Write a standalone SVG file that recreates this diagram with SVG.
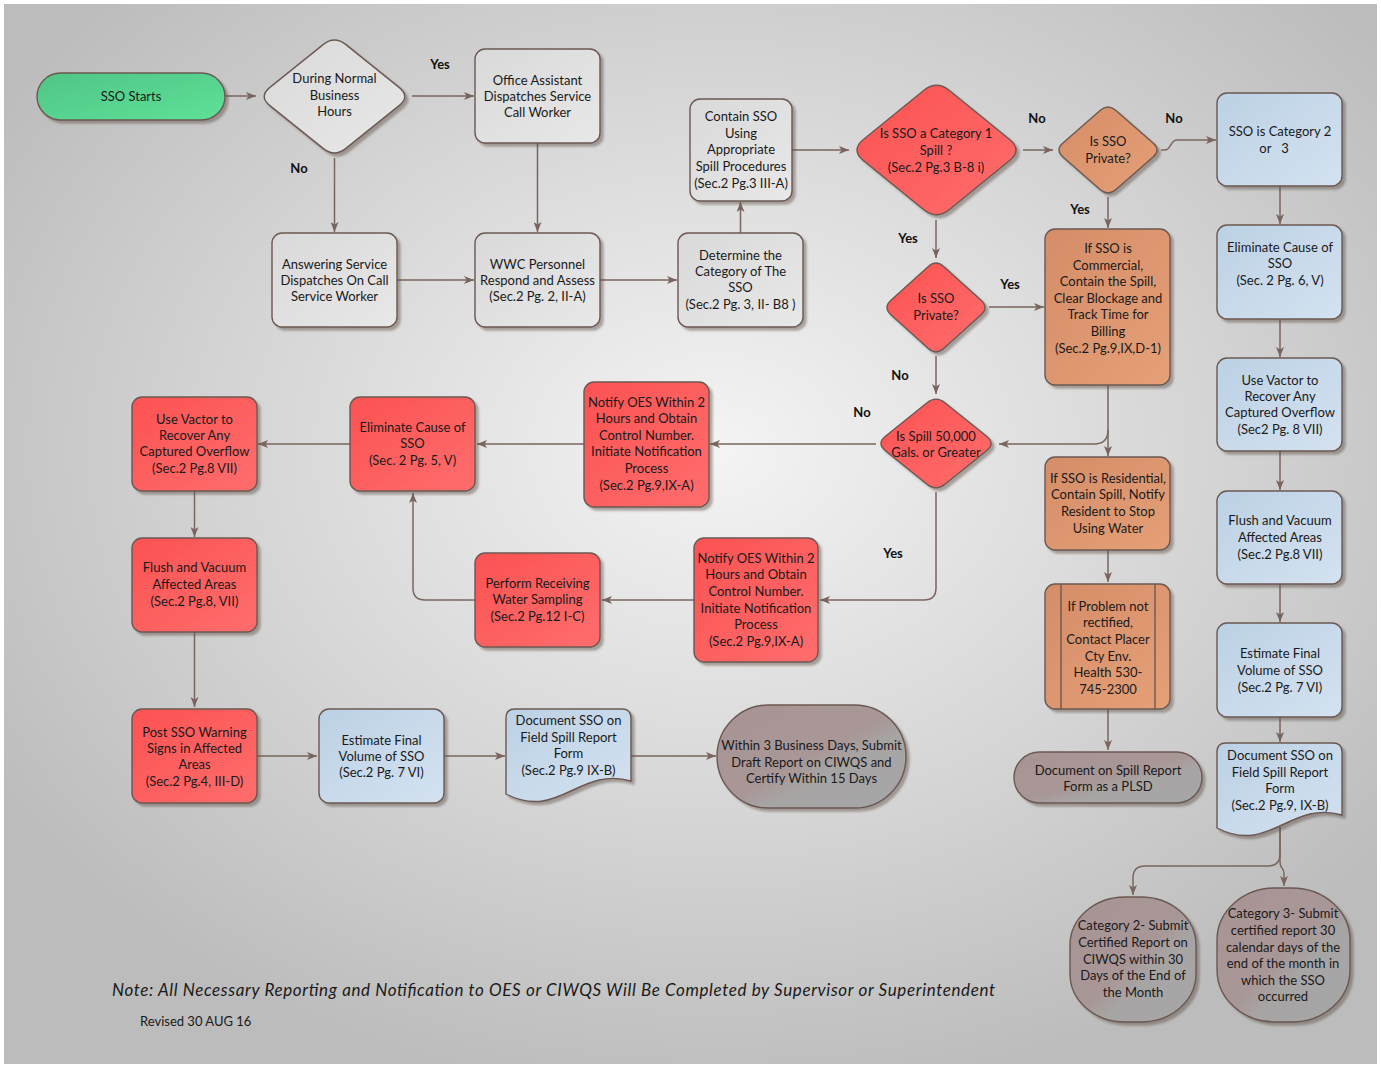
<svg xmlns="http://www.w3.org/2000/svg" width="1381" height="1067" viewBox="0 0 1381 1067">
<defs>
<radialGradient id="bg" cx="0.52" cy="0.42" r="0.62">
<stop offset="0" stop-color="#f4f4f4"/>
<stop offset="0.55" stop-color="#d6d6d6"/>
<stop offset="1" stop-color="#bcbcbc"/>
</radialGradient>
<linearGradient id="gRed" x1="0" y1="0" x2="1" y2="1"><stop offset="0" stop-color="#fc5252"/><stop offset="1" stop-color="#ff6d6d"/></linearGradient>
<linearGradient id="gOr" x1="0" y1="0" x2="1" y2="1"><stop offset="0" stop-color="#d48d68"/><stop offset="1" stop-color="#e6a077"/></linearGradient>
<linearGradient id="gBl" x1="0" y1="0" x2="1" y2="1"><stop offset="0" stop-color="#bcd1e5"/><stop offset="1" stop-color="#d4e2f0"/></linearGradient>
<linearGradient id="gGr" x1="0" y1="0" x2="1" y2="1"><stop offset="0" stop-color="#d9d9d9"/><stop offset="1" stop-color="#e8e8e8"/></linearGradient>
<linearGradient id="gGn" x1="0" y1="0" x2="1" y2="1"><stop offset="0" stop-color="#50c585"/><stop offset="1" stop-color="#5ee198"/></linearGradient>
<linearGradient id="gMv" x1="0" y1="0" x2="1" y2="1"><stop offset="0" stop-color="#a89393"/><stop offset="0.5" stop-color="#a99797"/><stop offset="0.62" stop-color="#a7a4a4"/><stop offset="1" stop-color="#a6a6a6"/></linearGradient>
<filter id="sh" x="-10%" y="-10%" width="125%" height="125%">
<feDropShadow dx="3" dy="3" stdDeviation="1.3" flood-color="#5a4843" flood-opacity="0.45"/>
</filter>
<marker id="ah" viewBox="0 0 10 8" refX="10" refY="4" markerWidth="10" markerHeight="8" markerUnits="userSpaceOnUse" orient="auto">
<path d="M0,0 L10,4 L0,8 L2.5,4 Z" fill="#7a645e"/>
</marker>
<style>
.n{stroke:#6b5852;stroke-width:1.4;filter:url(#sh)}
.red{fill:url(#gRed)}.or{fill:url(#gOr)}.bl{fill:url(#gBl)}.gr{fill:url(#gGr)}.gn{fill:url(#gGn)}.mv{fill:url(#gMv)}
.t{font-family:Lato,"Liberation Sans",sans-serif;font-size:13px;fill:#1a1a1a;text-anchor:middle}
.lb{font-family:Lato,"Liberation Sans",sans-serif;font-size:13px;font-weight:bold;fill:#111;text-anchor:middle}
.c{fill:none;stroke:#7a655f;stroke-width:1.5;marker-end:url(#ah)}
.ln{fill:none;stroke:#6b5852;stroke-width:1.4}
</style>
</defs>
<rect x="4" y="4" width="1373" height="1060" fill="url(#bg)"/>

<g id="connectors">
<path class="c" d="M225,96 H256"/>
<path class="c" d="M412,96 H474"/>
<path class="c" d="M334.5,158 V232"/>
<path class="c" d="M537.5,143 V232"/>
<path class="c" d="M397,280 H474"/>
<path class="c" d="M600,280 H677"/>
<path class="c" d="M740.5,233 V202"/>
<path class="c" d="M792,150 H849"/>
<path class="c" d="M1023,150 H1053"/>
<path class="c" d="M1161,150 H1165 C1171,150 1170,140 1177,140 H1216"/>
<path class="c" d="M1108,197 V228"/>
<path class="c" d="M936,220 V258"/>
<path class="c" d="M989,307 H1044"/>
<path class="c" d="M936,356 V394"/>
<path class="c" d="M1108,385 V456"/>
<path class="c" d="M1108,430 Q1108,444 1094,444 H999"/>
<path class="c" d="M876,444 H710"/>
<path class="c" d="M584,444 H477"/>
<path class="c" d="M350,444 H258"/>
<path class="c" d="M194.5,491 V537"/>
<path class="c" d="M194.5,632 V707"/>
<path class="c" d="M936,492 V588 Q936,600 924,600 H820"/>
<path class="c" d="M694,600 H602"/>
<path class="c" d="M475,600 H425 Q413,600 413,588 V493"/>
<path class="c" d="M257,756 H317"/>
<path class="c" d="M444,756 H505"/>
<path class="c" d="M631,756 H716"/>
<path class="c" d="M1108,550 V582"/>
<path class="c" d="M1108,709 V750"/>
<path class="c" d="M1280,186 V224"/>
<path class="c" d="M1280,319 V357"/>
<path class="c" d="M1280,451 V490"/>
<path class="c" d="M1280,584 V622"/>
<path class="c" d="M1280,717 V742"/>
<path class="c" d="M1280,827 V854 Q1280,866 1268,866 H1145 Q1133,866 1133,878 V895"/>
<path class="c" d="M1280,827 V862 Q1280,866 1282,868 Q1284,870 1284,874 V886"/>
<text class="lb" x="440" y="69">Yes</text>
<text class="lb" x="299" y="173">No</text>
<text class="lb" x="1037" y="123">No</text>
<text class="lb" x="1174" y="123">No</text>
<text class="lb" x="1080" y="214">Yes</text>
<text class="lb" x="908" y="243">Yes</text>
<text class="lb" x="1010" y="289">Yes</text>
<text class="lb" x="900" y="380">No</text>
<text class="lb" x="862" y="417">No</text>
<text class="lb" x="893" y="558">Yes</text>
</g>

<g id="n-start">
<rect class="n gn" x="37" y="73" width="188" height="47" rx="23.5"/>
<text class="t" x="131" y="100.5">SSO Starts</text>
</g>
<g id="n-hours">
<path class="n gr" d="M345.9,44.65 L399.1,87.35 Q410.5,96.5 399.1,105.65 L345.9,148.35 Q334.5,157.5 323.1,148.35 L269.9,105.65 Q258.5,96.5 269.9,87.35 L323.1,44.65 Q334.5,35.5 345.9,44.65 Z"/>
<text class="t"><tspan x="334.5" y="83">During Normal</tspan><tspan x="334.5" y="99.5">Business</tspan><tspan x="334.5" y="116">Hours</tspan></text>
</g>
<g id="n-office">
<rect class="n gr" x="475" y="49" width="125" height="94" rx="10"/>
<text class="t"><tspan x="537.5" y="84.5">Office Assistant</tspan><tspan x="537.5" y="100.5">Dispatches Service</tspan><tspan x="537.5" y="116.5">Call Worker</tspan></text>
</g>
<g id="n-answering">
<rect class="n gr" x="272" y="233" width="125" height="94" rx="10"/>
<text class="t"><tspan x="334.5" y="268.5">Answering Service</tspan><tspan x="334.5" y="284.5">Dispatches On Call</tspan><tspan x="334.5" y="301">Service Worker</tspan></text>
</g>
<g id="n-wwc">
<rect class="n gr" x="475" y="233" width="125" height="94" rx="10"/>
<text class="t"><tspan x="537.5" y="268.5">WWC Personnel</tspan><tspan x="537.5" y="284.5">Respond and Assess</tspan><tspan x="537.5" y="301">(Sec.2 Pg. 2, II-A)</tspan></text>
</g>
<g id="n-determine">
<rect class="n gr" x="678" y="233" width="125" height="94" rx="10"/>
<text class="t"><tspan x="740.5" y="259.5">Determine the</tspan><tspan x="740.5" y="275.5">Category of The</tspan><tspan x="740.5" y="291.5">SSO</tspan><tspan x="740.5" y="308.5">(Sec.2 Pg. 3, II- B8 )</tspan></text>
</g>
<g id="n-contain">
<rect class="n gr" x="690" y="99" width="102" height="102" rx="10"/>
<text class="t"><tspan x="741" y="120.5">Contain SSO</tspan><tspan x="741" y="137.5">Using</tspan><tspan x="741" y="154">Appropriate</tspan><tspan x="741" y="170.5">Spill Procedures</tspan><tspan x="741" y="187.5">(Sec.2 Pg.3 III-A)</tspan></text>
</g>
<g id="n-cat1">
<path class="n red" d="M949.4,90.5 L1009.6,139.5 Q1022.5,150 1009.6,160.5 L949.4,209.5 Q936.5,220 923.6,209.5 L863.4,160.5 Q850.5,150 863.4,139.5 L923.6,90.5 Q936.5,80 949.4,90.5 Z"/>
<text class="t"><tspan x="936" y="137.5">Is SSO a Category 1</tspan><tspan x="936" y="154.5">Spill ?</tspan><tspan x="936" y="171.5">(Sec.2 Pg.3 B-8 i)</tspan></text>
</g>
<g id="n-private-orange">
<path class="n or" d="M1115.95,110.475 L1153.05,143.025 Q1161,150 1153.05,156.975 L1115.95,189.525 Q1108,196.5 1100.05,189.525 L1062.95,156.975 Q1055,150 1062.95,143.025 L1100.05,110.475 Q1108,103.5 1115.95,110.475 Z"/>
<text class="t"><tspan x="1108" y="145.5">Is SSO</tspan><tspan x="1108" y="162.5">Private?</tspan></text>
</g>
<g id="n-cat23">
<rect class="n bl" x="1217" y="93" width="125" height="93" rx="10"/>
<text class="t" xml:space="preserve"><tspan x="1280" y="135.5">SSO is Category 2</tspan><tspan x="1274" y="152.5">or   3</tspan></text>
</g>
<g id="n-commercial">
<rect class="n or" x="1045" y="229" width="125" height="156" rx="10"/>
<text class="t"><tspan x="1108" y="252.5">If SSO is</tspan><tspan x="1108" y="269.5">Commercial,</tspan><tspan x="1108" y="286">Contain the Spill,</tspan><tspan x="1108" y="302.5">Clear Blockage and</tspan><tspan x="1108" y="319">Track Time for</tspan><tspan x="1108" y="335.5">Billing</tspan><tspan x="1108" y="352.5">(Sec.2 Pg.9,IX,D-1)</tspan></text>
</g>
<g id="n-elim-blue">
<rect class="n bl" x="1217" y="225" width="125" height="94" rx="10"/>
<text class="t"><tspan x="1280" y="251.5">Eliminate Cause of</tspan><tspan x="1280" y="267.5">SSO</tspan><tspan x="1280" y="284.5">(Sec. 2 Pg. 6, V)</tspan></text>
</g>
<g id="n-vactor-blue">
<rect class="n bl" x="1217" y="358" width="125" height="93" rx="10"/>
<text class="t"><tspan x="1280" y="384.5">Use Vactor to</tspan><tspan x="1280" y="400.5">Recover Any</tspan><tspan x="1280" y="416.5">Captured Overflow</tspan><tspan x="1280" y="433.5">(Sec2 Pg. 8 VII)</tspan></text>
</g>
<g id="n-flush-blue">
<rect class="n bl" x="1217" y="491" width="125" height="93" rx="10"/>
<text class="t"><tspan x="1280" y="524.5">Flush and Vacuum</tspan><tspan x="1280" y="541.5">Affected Areas</tspan><tspan x="1280" y="558.5">(Sec.2 Pg.8 VII)</tspan></text>
</g>
<g id="n-estimate-blue">
<rect class="n bl" x="1217" y="623" width="125" height="94" rx="10"/>
<text class="t"><tspan x="1280" y="657.5">Estimate Final</tspan><tspan x="1280" y="674.5">Volume of SSO</tspan><tspan x="1280" y="691.5">(Sec.2 Pg. 7 VI)</tspan></text>
</g>
<g id="n-document-right">
<path class="n bl" d="M1226,743 H1333 Q1342,743 1342,752 V815 C1290,800 1270,855 1217,828 V752 Q1217,743 1226,743 Z"/>
<text class="t"><tspan x="1280" y="759.5">Document SSO on</tspan><tspan x="1280" y="776.5">Field Spill Report</tspan><tspan x="1280" y="792.5">Form</tspan><tspan x="1280" y="809.5">(Sec.2 Pg.9, IX-B)</tspan></text>
</g>
<g id="n-cat2-submit">
<rect class="n mv" x="1070" y="897" width="126" height="125" rx="55" ry="48"/>
<text class="t"><tspan x="1133" y="929.5">Category 2- Submit</tspan><tspan x="1133" y="946.5">Certified Report on</tspan><tspan x="1133" y="963.5">CIWQS within 30</tspan><tspan x="1133" y="979.5">Days of the End of</tspan><tspan x="1133" y="996.5">the Month</tspan></text>
</g>
<g id="n-cat3-submit">
<rect class="n mv" x="1217" y="888" width="133" height="134" rx="58" ry="52"/>
<text class="t"><tspan x="1283" y="917.5">Category 3- Submit</tspan><tspan x="1283" y="934.5">certified report 30</tspan><tspan x="1283" y="951.5">calendar days of the</tspan><tspan x="1283" y="967.5">end of the month in</tspan><tspan x="1283" y="984.5">which the SSO</tspan><tspan x="1283" y="1000.5">occurred</tspan></text>
</g>
<g id="n-private-red">
<path class="n red" d="M943.95,266.7 L981.05,300.3 Q989,307.5 981.05,314.7 L943.95,348.3 Q936,355.5 928.05,348.3 L890.95,314.7 Q883,307.5 890.95,300.3 L928.05,266.7 Q936,259.5 943.95,266.7 Z"/>
<text class="t"><tspan x="936" y="302.5">Is SSO</tspan><tspan x="936" y="319.5">Private?</tspan></text>
</g>
<g id="n-spill">
<path class="n red" d="M944.925,402.7 L986.575,436.3 Q995.5,443.5 986.575,450.7 L944.925,484.3 Q936,491.5 927.075,484.3 L885.425,450.7 Q876.5,443.5 885.425,436.3 L927.075,402.7 Q936,395.5 944.925,402.7 Z"/>
<text class="t"><tspan x="936" y="440.5">Is Spill 50,000</tspan><tspan x="936" y="456.5">Gals. or Greater</tspan></text>
</g>
<g id="n-notify1">
<rect class="n red" x="584" y="382" width="125" height="125" rx="10"/>
<text class="t"><tspan x="646.5" y="406.5">Notify OES Within 2</tspan><tspan x="646.5" y="423">Hours and Obtain</tspan><tspan x="646.5" y="439.5">Control Number.</tspan><tspan x="646.5" y="456">Initiate Notification</tspan><tspan x="646.5" y="472.5">Process</tspan><tspan x="646.5" y="489.5">(Sec.2 Pg.9,IX-A)</tspan></text>
</g>
<g id="n-elim-red">
<rect class="n red" x="350" y="397" width="125" height="94" rx="10"/>
<text class="t"><tspan x="412.5" y="431.5">Eliminate Cause of</tspan><tspan x="412.5" y="447.5">SSO</tspan><tspan x="412.5" y="464.5">(Sec. 2 Pg. 5, V)</tspan></text>
</g>
<g id="n-vactor-red">
<rect class="n red" x="132" y="397" width="125" height="94" rx="10"/>
<text class="t"><tspan x="194.5" y="423.5">Use Vactor to</tspan><tspan x="194.5" y="439.5">Recover Any</tspan><tspan x="194.5" y="456">Captured Overflow</tspan><tspan x="194.5" y="473">(Sec.2 Pg.8 VII)</tspan></text>
</g>
<g id="n-flush-red">
<rect class="n red" x="132" y="538" width="125" height="94" rx="10"/>
<text class="t"><tspan x="194.5" y="571.5">Flush and Vacuum</tspan><tspan x="194.5" y="588.5">Affected Areas</tspan><tspan x="194.5" y="605.5">(Sec.2 Pg.8, VII)</tspan></text>
</g>
<g id="n-post">
<rect class="n red" x="132" y="709" width="125" height="94" rx="10"/>
<text class="t"><tspan x="194.5" y="736.5">Post SSO Warning</tspan><tspan x="194.5" y="752.5">Signs in Affected</tspan><tspan x="194.5" y="768.5">Areas</tspan><tspan x="194.5" y="786">(Sec.2 Pg.4, III-D)</tspan></text>
</g>
<g id="n-estimate-bottom">
<rect class="n bl" x="319" y="709" width="125" height="94" rx="10"/>
<text class="t"><tspan x="381.5" y="744.5">Estimate Final</tspan><tspan x="381.5" y="760.5">Volume of SSO</tspan><tspan x="381.5" y="777">(Sec.2 Pg. 7 VI)</tspan></text>
</g>
<g id="n-document-bottom">
<path class="n bl" d="M515,709 H622 Q631,709 631,718 V781 C579,766 559,821 506,794 V718 Q506,709 515,709 Z"/>
<text class="t"><tspan x="568.5" y="725">Document SSO on</tspan><tspan x="568.5" y="741.5">Field Spill Report</tspan><tspan x="568.5" y="758">Form</tspan><tspan x="568.5" y="775">(Sec.2 Pg.9 IX-B)</tspan></text>
</g>
<g id="n-within3">
<rect class="n mv" x="717" y="705" width="189" height="103" rx="51.5"/>
<text class="t"><tspan x="811.5" y="750">Within 3 Business Days, Submit</tspan><tspan x="811.5" y="766.5">Draft Report on CIWQS and</tspan><tspan x="811.5" y="783">Certify Within 15 Days</tspan></text>
</g>
<g id="n-notify2">
<rect class="n red" x="694" y="538" width="124" height="124" rx="10"/>
<text class="t"><tspan x="756" y="563">Notify OES Within 2</tspan><tspan x="756" y="579">Hours and Obtain</tspan><tspan x="756" y="595.5">Control Number.</tspan><tspan x="756" y="612.5">Initiate Notification</tspan><tspan x="756" y="629">Process</tspan><tspan x="756" y="645.5">(Sec.2 Pg.9,IX-A)</tspan></text>
</g>
<g id="n-perform">
<rect class="n red" x="475" y="553" width="125" height="94" rx="10"/>
<text class="t"><tspan x="537.5" y="587.5">Perform Receiving</tspan><tspan x="537.5" y="603.5">Water Sampling</tspan><tspan x="537.5" y="621">(Sec.2 Pg.12 I-C)</tspan></text>
</g>
<g id="n-residential">
<rect class="n or" x="1045" y="457" width="125" height="93" rx="10"/>
<text class="t"><tspan x="1108" y="482.5">If SSO is Residential,</tspan><tspan x="1108" y="498.5">Contain Spill, Notify</tspan><tspan x="1108" y="515.5">Resident to Stop</tspan><tspan x="1108" y="532.5">Using Water</tspan></text>
</g>
<g id="n-problem">
<rect class="n or" x="1045" y="584" width="125" height="125" rx="10"/>
<path class="ln" d="M1061,584 V709 M1155,584 V709"/>
<text class="t"><tspan x="1108" y="610.5">If Problem not</tspan><tspan x="1108" y="626.5">rectified,</tspan><tspan x="1108" y="643.5">Contact Placer</tspan><tspan x="1108" y="660.5">Cty Env.</tspan><tspan x="1108" y="676.5">Health 530-</tspan><tspan x="1108" y="694">745-2300</tspan></text>
</g>
<g id="n-plsd">
<rect class="n mv" x="1014" y="752" width="188" height="51" rx="25.5"/>
<text class="t"><tspan x="1108" y="774.5">Document on Spill Report</tspan><tspan x="1108" y="790.5">Form as a PLSD</tspan></text>
</g>

<text x="112" y="996" textLength="883" style="font-family:Lato,'Liberation Sans',sans-serif;font-size:17px;font-style:italic;fill:#1a1a1a">Note: All Necessary Reporting and Notification to OES or CIWQS Will Be Completed by Supervisor or Superintendent</text>
<text x="140" y="1026" style="font-family:Lato,'Liberation Sans',sans-serif;font-size:13px;fill:#1a1a1a">Revised 30 AUG 16</text>
</svg>
